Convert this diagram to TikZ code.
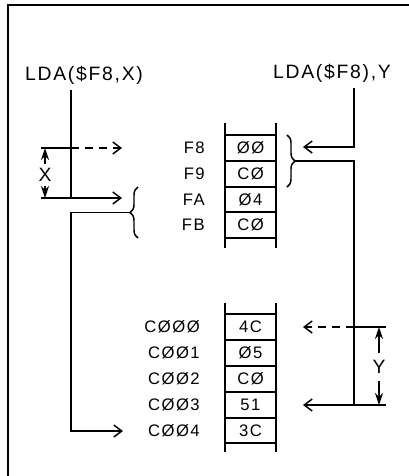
\documentclass[tikz,border=0pt]{standalone}
\usepackage{fontspec}
\setmainfont{Liberation Sans}
\newfontfamily\memFont{Liberation Sans}[LetterSpace=9]
\usetikzlibrary{arrows.meta,decorations.pathreplacing}

\begin{document}
\begin{tikzpicture}[x=0.75pt,y=-0.75pt,
  wire/.style={line width=1.1pt},
  rail/.style={line width=2pt},
  rung/.style={line width=1.5pt},
  ptr/.style={wire,-{Straight Barb[length=6pt,width=9pt,line width=1.1pt]}},
  dashptr/.style={ptr,dash pattern=on 6pt off 4.5pt},
  dimtip/.style={line width=1pt,-{Stealth[length=9pt,width=6pt]}},
  memlbl/.style={font={\memFont\fontsize{12.5}{13}\selectfont},anchor=east,inner sep=0pt},
  memval/.style={font={\memFont\fontsize{12.5}{13}\selectfont},inner sep=0pt},
  instr/.style={font={\memFont\fontsize{14.5}{15}\selectfont},inner sep=0pt},
  brc/.style={wire,decorate,decoration={brace,amplitude=6pt}}]
\useasboundingbox (0,0) rectangle (409,476);
% frame
\draw[line width=1.5pt] (409,5) -- (8,5) -- (8,476);
% zero page column
\draw[rail] (225,123) -- (225,248);
\draw[rail] (276,123) -- (276,248);
\draw[rung] (225,135) -- (276,135);
\draw[rung] (225,161) -- (276,161);
\draw[rung] (225,187) -- (276,187);
\draw[rung] (225,212) -- (276,212);
\draw[rung] (225,238) -- (276,238);
\node[memval] (vF8) at (250.5,148) {ØØ};
\node[memval] (vF9) at (250.5,174) {CØ};
\node[memval] (vFA) at (250.5,199.5) {Ø4};
\node[memval] (vFB) at (250.5,225) {CØ};
\node[memlbl] (aF8) at (205,148) {F8};
\node[memlbl] (aF9) at (205,174) {F9};
\node[memlbl] (aFA) at (205,199.5) {FA};
\node[memlbl] (aFB) at (205,225) {FB};
% page C0 column
\draw[rail] (225,303) -- (225,452);
\draw[rail] (276,303) -- (276,452);
\draw[rung] (225,314) -- (276,314);
\draw[rung] (225,340) -- (276,340);
\draw[rung] (225,366) -- (276,366);
\draw[rung] (225,392) -- (276,392);
\draw[rung] (225,418) -- (276,418);
\draw[rung] (225,443) -- (276,443);
\node[memval] (vC000) at (250.5,327) {4C};
\node[memval] (vC001) at (250.5,353) {Ø5};
\node[memval] (vC002) at (250.5,379) {CØ};
\node[memval] (vC003) at (250.5,405) {51};
\node[memval] (vC004) at (250.5,430.5) {3C};
\node[memlbl] (aC000) at (200,327) {CØØØ};
\node[memlbl] (aC001) at (200,353) {CØØ1};
\node[memlbl] (aC002) at (200,379) {CØØ2};
\node[memlbl] (aC003) at (200,405) {CØØ3};
\node[memlbl] (aC004) at (200,430.5) {CØØ4};
% LDA($F8,X)
\node[instr] (ldaX) at (84,75) {LDA(\$F8,X)};
\coordinate (xTop) at (71,90);
\coordinate (xBase) at (71,148);
\coordinate (xBaseL) at (41,148);
\coordinate (xBaseTip) at (122,148);
\coordinate (xIdx) at (71,198);
\coordinate (xIdxL) at (41,198);
\coordinate (xIdxTip) at (122,198);
\coordinate (fxTip) at (130,212.5);
\coordinate (xEnd) at (123,431);
\draw[wire] (xTop) -- (xIdx);
\draw[wire] (xBaseL) -- (xBase);
\draw[dashptr] (xBase) -- (xBaseTip);
\draw[ptr] (xIdxL) -- (xIdxTip);
\node[instr] (xLbl) at (45,175) {X};
\draw[dimtip] (45,164) -- (xLbl.north |- xBase);
\draw[dimtip] (45,186) -- (xLbl.south |- xIdx);
\draw[brc] (138,238) -- (138,187);
\draw[ptr] (fxTip) -- (fxTip -| xTop) |- (xEnd);
% LDA($F8),Y
\node[instr] (ldaY) at (332,73) {LDA(\$F8),Y};
\coordinate (yTop) at (354,88);
\coordinate (yPtr) at (303,147);
\coordinate (fyTip) at (295,161);
\coordinate (yBase) at (354,327);
\coordinate (yBaseR) at (386,327);
\coordinate (yBaseTip) at (303,327);
\coordinate (yIdx) at (354,405);
\coordinate (yIdxR) at (386,405);
\coordinate (yIdxTip) at (303,405);
\draw[ptr] (yTop) |- (yPtr);
\draw[brc] (287,135) -- (287,187);
\draw[wire] (fyTip) -| (yIdx);
\draw[wire] (yBaseR) -- (yBase);
\draw[dashptr] (yBase) -- (yBaseTip);
\draw[ptr] (yIdxR) -- (yIdxTip);
\node[instr] (yLbl) at (379,367) {Y};
\draw[dimtip] (379,353) -- (yLbl.north |- yBase);
\draw[dimtip] (379,381) -- (yLbl.south |- yIdx);
\end{tikzpicture}
\end{document}
